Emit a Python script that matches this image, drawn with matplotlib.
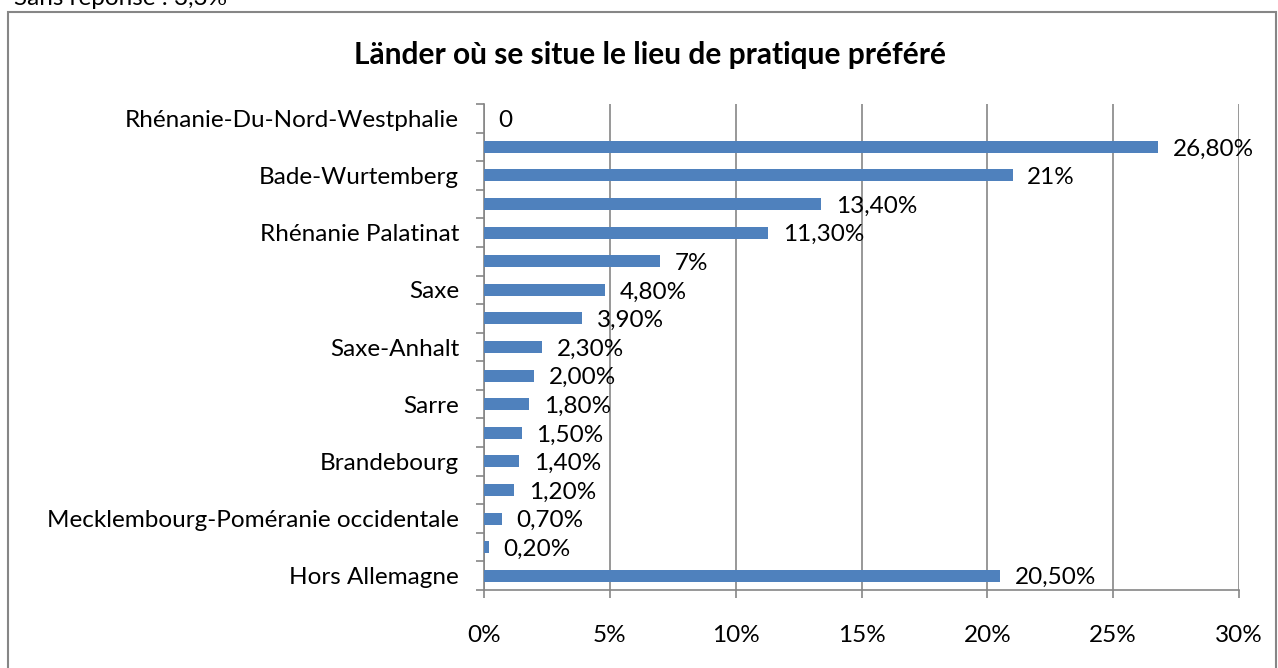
import matplotlib
matplotlib.use("Agg")
import matplotlib.pyplot as plt
from matplotlib.patches import Rectangle
import numpy as np

plt.rcParams['font.family'] = ['Lato', 'DejaVu Sans']

categories = ["Rhénanie-Du-Nord-Westphalie", "", "Bade-Wurtemberg", "", "Rhénanie Palatinat",
              "", "Saxe", "", "Saxe-Anhalt", "", "Sarre", "", "Brandebourg", "",
              "Mecklembourg-Poméranie occidentale", "", "Hors Allemagne"]
values = [0, 26.8, 21, 13.4, 11.3, 7, 4.8, 3.9, 2.3, 2.0, 1.8, 1.5, 1.4, 1.2, 0.7, 0.2, 20.5]
value_labels = ["0", "26,80%", "21%", "13,40%", "11,30%", "7%", "4,80%", "3,90%", "2,30%",
                "2,00%", "1,80%", "1,50%", "1,40%", "1,20%", "0,70%", "0,20%", "20,50%"]
xticks = [0, 5, 10, 15, 20, 25, 30]
xtick_labels = ["0%", "5%", "10%", "15%", "20%", "25%", "30%"]
title = "Länder où se situe le lieu de pratique préféré"
note = "Sans réponse : 3,3%"

W, H = 1278, 668
fig = plt.figure(figsize=(W / 100, H / 100), dpi=100)
ax = fig.add_axes([484 / W, 1 - 590 / H, (1239 - 484) / W, (590 - 104) / H])

FS = 17.5
gray = "#868686"
n = len(categories)
y = np.arange(n)
ax.barh(y, values, height=0.42, color="#4F81BD", zorder=3)
ax.set_ylim(n - 0.5, -0.5)
ax.set_xlim(0, 30)

for yi, v, lab in zip(y, values, value_labels):
    ax.annotate(lab, (v, yi), xytext=(10.5, -1.5), textcoords="offset points",
                ha="left", va="center", fontsize=FS, color="black", zorder=4,
                annotation_clip=False)

ax.set_xticks(xticks)
ax.set_xticklabels(xtick_labels, fontsize=FS)
ax.tick_params(axis="x", length=6, width=1.2, color=gray, pad=19)
ax.set_yticks(y)
ax.set_yticklabels(categories, fontsize=FS)
ax.tick_params(axis="y", which="major", length=0, pad=18)
ax.set_yticks(np.arange(-0.5, n, 1), minor=True)
ax.tick_params(axis="y", which="minor", length=6, width=1.2, color=gray)

ax.grid(axis="x", color=gray, linewidth=1.2, zorder=0)
for s in ["top", "right"]:
    ax.spines[s].set_visible(False)
for s in ["left", "bottom"]:
    ax.spines[s].set_color(gray)
    ax.spines[s].set_linewidth(1.2)

fig.text(650 / W, 1 - 55 / H, title, ha="center", va="center", fontsize=21.5, fontweight="bold")
fig.text(14 / W, 1 - 5 / H, note, ha="left", va="baseline", fontsize=FS)

fig.patches.append(Rectangle((8 / W, -0.05), (1276 - 8) / W, 1.05 - 12 / H,
                             transform=fig.transFigure, fill=False, edgecolor=gray, linewidth=1.5))

fig.savefig("out.png", dpi=100)
